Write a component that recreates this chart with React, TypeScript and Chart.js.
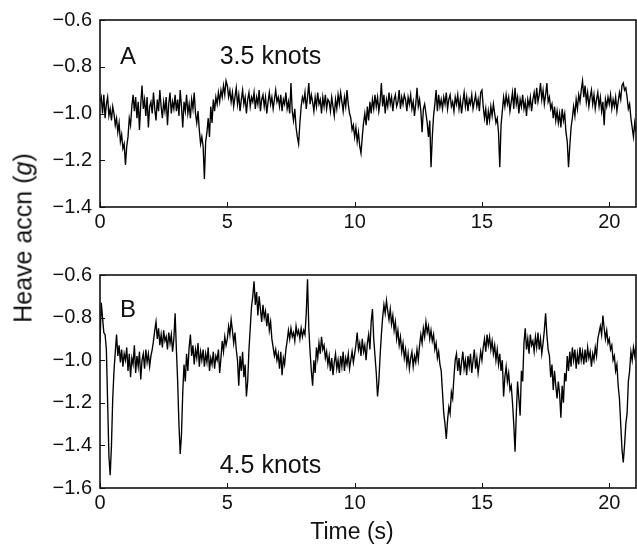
import React, { useEffect, useRef } from 'react';
import { Chart, registerables } from 'chart.js';

Chart.register(...registerables);

// Sampling interval of the heave record (s)
const SAMPLE_STEP_S = 0.05;
const TIME_MAX_S = 21.05;
const X_TICKS = [0, 5, 10, 15, 20];

// Panel A: 3.5 knots, heave acceleration (g)
const HEAVE_A = [
  -0.95, -0.93, -1.00, -0.92, -1.02, -0.96, -0.93, -1.01, -0.98, -1.03, -0.97, -1.00, -1.05, -1.02, -1.08, -1.04, -1.12, -1.09, -1.15, -1.13,
  -1.22, -1.14, -1.10, -1.02, -1.05, -0.97, -0.92, -0.99, -0.93, -1.02, -0.95, -1.07, -0.96, -0.88, -0.98, -0.94, -1.01, -0.93, -1.06, -0.97,
  -0.95, -1.00, -0.91, -0.98, -1.03, -0.94, -0.99, -0.90, -0.97, -1.02, -0.95, -0.99, -0.93, -1.05, -0.96, -0.91, -1.00, -0.95, -0.98, -0.92,
  -0.99, -0.94, -1.01, -0.90, -0.97, -1.06, -0.95, -0.99, -0.92, -1.00, -0.96, -1.02, -0.94, -0.98, -0.91, -1.00, -1.04, -0.99, -1.07, -1.13,
  -1.10, -1.14, -1.28, -1.12, -1.08, -1.02, -1.10, -0.97, -1.04, -0.94, -0.99, -0.93, -0.96, -0.91, -0.95, -0.90, -0.93, -0.88, -0.92, -0.86,
  -0.88, -0.93, -0.90, -0.95, -0.91, -0.97, -0.93, -0.89, -0.96, -0.92, -0.99, -0.94, -0.90, -0.96, -0.93, -1.00, -0.94, -0.91, -0.97, -0.93,
  -0.95, -0.91, -0.98, -0.93, -0.96, -0.90, -0.99, -0.94, -0.92, -0.97, -0.93, -1.00, -0.95, -0.91, -0.96, -0.93, -0.98, -0.94, -0.90, -0.95,
  -0.93, -0.97, -0.92, -0.99, -0.94, -0.96, -0.91, -0.98, -0.95, -1.00, -0.87, -0.99, -1.03, -0.98, -1.06, -1.10, -1.13, -1.04, -0.97, -0.93,
  -0.95, -0.91, -0.98, -0.93, -0.87, -0.96, -0.92, -0.95, -0.99, -0.93, -0.97, -0.91, -0.96, -0.94, -1.00, -0.93, -0.97, -0.92, -0.98, -0.94,
  -0.95, -0.99, -0.93, -0.97, -1.01, -0.94, -0.98, -0.92, -0.96, -0.91, -0.95, -0.99, -0.93, -0.97, -0.90, -0.96, -1.00, -1.02, -1.07, -1.05,
  -1.10, -1.06, -1.12, -1.08, -1.14, -1.17, -1.10, -1.04, -1.00, -1.05, -0.97, -1.03, -0.95, -1.00, -0.94, -0.98, -0.92, -0.97, -0.93, -0.99,
  -0.95, -0.87, -0.97, -0.92, -1.00, -0.94, -0.97, -0.91, -0.96, -0.93, -0.99, -0.94, -0.92, -0.97, -0.95, -0.90, -0.98, -0.93, -0.96, -0.92,
  -0.94, -0.99, -0.93, -0.96, -0.92, -0.98, -0.95, -1.01, -0.96, -0.89, -0.97, -0.94, -0.99, -1.08, -0.98, -0.96, -1.00, -1.04, -1.10, -1.03,
  -1.23, -1.10, -1.01, -0.96, -0.90, -0.99, -0.92, -0.97, -0.94, -0.98, -0.93, -0.96, -0.91, -0.98, -0.94, -0.92, -0.97, -0.95, -0.99, -0.93,
  -0.96, -0.92, -0.98, -0.94, -1.00, -0.95, -0.91, -0.97, -0.93, -0.99, -0.94, -0.96, -0.92, -0.98, -0.95, -0.92, -0.97, -0.94, -0.99, -0.91,
  -0.90, -0.97, -1.02, -0.98, -1.05, -0.99, -1.03, -0.97, -1.01, -0.96, -1.00, -1.04, -1.02, -1.08, -1.23, -1.05, -0.99, -0.93, -0.97, -0.92,
  -0.96, -0.93, -0.99, -0.95, -0.91, -0.98, -0.89, -0.96, -0.93, -1.00, -0.94, -0.97, -0.92, -0.98, -0.95, -1.01, -0.94, -0.97, -0.93, -0.99,
  -0.94, -0.91, -0.96, -0.89, -0.95, -0.92, -0.87, -0.94, -0.90, -0.96, -0.92, -0.87, -0.95, -0.93, -0.98, -0.96, -1.02, -0.97, -1.03, -0.99,
  -1.04, -1.00, -1.06, -0.98, -1.03, -1.00, -1.08, -1.12, -1.23, -1.14, -1.06, -1.02, -0.97, -1.01, -0.94, -0.98, -0.92, -0.95, -0.90, -0.86,
  -0.93, -0.88, -0.95, -0.91, -0.97, -0.93, -0.90, -0.96, -0.92, -0.98, -0.94, -0.91, -0.97, -0.93, -0.99, -0.95, -1.05, -0.94, -0.97, -0.93,
  -0.96, -0.92, -0.98, -0.94, -0.97, -0.93, -0.99, -0.95, -0.91, -0.94, -0.88, -0.87, -0.90, -0.89, -0.93, -0.98, -0.96, -1.02, -1.06, -1.10,
  -1.04, -1.08,
];

// Panel B: 4.5 knots, heave acceleration (g)
const HEAVE_B = [
  -0.92, -0.73, -0.80, -0.87, -0.88, -0.95, -1.20, -1.45, -1.54, -1.40, -1.18, -1.05, -0.96, -0.88, -0.98, -0.93, -1.01, -0.95, -1.03, -0.97,
  -1.00, -0.94, -1.05, -0.97, -1.08, -0.99, -1.02, -0.93, -1.06, -0.98, -1.03, -0.96, -1.09, -1.00, -0.97, -1.04, -0.95, -1.01, -0.97, -1.03,
  -0.98, -0.95, -0.91, -0.86, -0.82, -0.90, -0.85, -0.93, -0.88, -0.94, -0.86, -0.91, -0.89, -0.95, -0.87, -0.92, -0.88, -0.96, -0.90, -0.78,
  -0.95, -1.10, -1.30, -1.44, -1.35, -1.15, -1.02, -1.10, -0.97, -1.05, -0.94, -0.88, -0.98, -0.93, -1.02, -0.95, -0.99, -0.92, -1.03, -0.96,
  -1.00, -0.95, -1.03, -0.97, -1.01, -0.94, -1.05, -0.99, -1.02, -0.96, -1.04, -0.98, -1.00, -0.95, -1.06, -0.99, -0.91, -0.96, -0.89, -0.93,
  -0.90, -0.84, -0.88, -0.81, -0.86, -0.92, -0.87, -0.95, -1.00, -1.12, -0.98, -1.05, -0.96, -1.08, -1.02, -1.17, -1.10, -0.95, -0.85, -0.75,
  -0.70, -0.63, -0.74, -0.68, -0.79, -0.70, -0.76, -0.82, -0.74, -0.80, -0.77, -0.84, -0.78, -0.86, -0.82, -0.90, -0.94, -0.98, -0.95, -1.00,
  -0.97, -1.04, -0.96, -1.07, -0.99, -1.02, -0.95, -0.91, -0.86, -0.90, -0.85, -0.89, -0.87, -0.91, -0.84, -0.88, -0.86, -0.90, -0.85, -0.89,
  -0.86, -0.88, -0.78, -0.62, -0.85, -0.96, -1.05, -1.12, -1.00, -1.06, -0.94, -0.99, -0.92, -0.97, -0.89, -0.95, -0.93, -0.99, -0.96, -1.02,
  -0.98, -1.05, -0.99, -1.07, -1.01, -0.97, -1.04, -1.00, -1.06, -0.98, -1.03, -0.96, -1.05, -0.99, -1.02, -0.97, -1.04, -1.00, -0.96, -1.01,
  -0.97, -0.93, -0.87, -0.95, -0.92, -0.98, -0.90, -0.96, -0.93, -1.00, -0.92, -0.88, -0.95, -0.82, -0.76, -0.90, -0.98, -1.06, -1.17, -1.10,
  -0.98, -0.88, -0.80, -0.74, -0.78, -0.72, -0.77, -0.81, -0.76, -0.83, -0.79, -0.86, -0.82, -0.90, -0.86, -0.93, -0.89, -0.96, -0.92, -0.99,
  -0.95, -1.02, -0.97, -1.04, -0.99, -0.96, -1.03, -0.98, -1.01, -0.95, -1.00, -0.93, -0.88, -0.92, -0.85, -0.89, -0.82, -0.87, -0.84, -0.90,
  -0.86, -0.91, -0.88, -0.95, -0.92, -0.99, -0.96, -1.02, -1.05, -1.15, -1.25, -1.30, -1.37, -1.28, -1.22, -1.25, -1.15, -1.18, -1.08, -1.00,
  -0.97, -1.05, -0.99, -1.07, -1.01, -0.96, -1.04, -1.00, -1.07, -0.98, -1.03, -0.97, -1.06, -1.00, -0.95, -1.04, -0.99, -1.06, -1.01, -0.96,
  -1.00, -0.94, -0.90, -0.96, -0.88, -0.93, -0.89, -0.95, -0.91, -0.97, -0.93, -1.00, -0.95, -1.02, -0.97, -1.05, -1.00, -1.17, -1.08, -1.03,
  -1.10, -1.06, -1.14, -1.12, -1.20, -1.30, -1.43, -1.25, -1.10, -1.18, -1.26, -1.05, -1.10, -0.92, -0.85, -0.95, -0.90, -0.97, -0.88, -0.93,
  -0.91, -0.96, -0.89, -0.94, -0.87, -0.95, -0.90, -0.97, -0.92, -0.86, -0.78, -0.88, -0.95, -0.98, -1.08, -1.02, -1.14, -1.05, -1.12, -1.18,
  -1.10, -1.16, -1.27, -1.12, -1.20, -1.06, -1.10, -0.98, -1.05, -0.96, -1.03, -0.94, -1.00, -0.95, -1.04, -0.97, -1.02, -0.94, -1.00, -0.96,
  -1.02, -0.95, -1.01, -0.94, -0.99, -0.96, -1.03, -0.97, -1.00, -0.94, -0.98, -0.90, -0.87, -0.84, -0.88, -0.79, -0.85, -0.90, -0.86, -0.92,
  -0.90, -0.95, -0.93, -1.00, -0.98, -1.05, -1.02, -1.12, -1.18, -1.30, -1.42, -1.48, -1.40, -1.30, -1.25, -1.10, -1.05, -0.96, -1.00, -0.94,
  -0.98, -0.93,
];

const Y_TICKS_A = [-1.4, -1.2, -1.0, -0.8, -0.6];
const Y_TICKS_B = [-1.6, -1.4, -1.2, -1.0, -0.8, -0.6];
const PANEL_LETTERS = ['A', 'B'];
const SPEED_LABELS = ['3.5 knots', '4.5 knots'];
const X_TITLE = 'Time (s)';
const Y_TITLE_MAIN = 'Heave accn (';
const Y_TITLE_UNIT = 'g';

const FONT = '"Liberation Sans", Arial, Helvetica, sans-serif';
const INK = '#111';

const fmtTick = (v: number) => Number(v).toFixed(1).replace('-', '\u2212');

const framePlugin = {
  id: 'frame',
  afterDraw(chart: any, _args: any, opts: any) {
    const { ctx, chartArea: a, scales } = chart;
    ctx.save();
    ctx.strokeStyle = INK;
    ctx.lineWidth = 1.6;
    ctx.strokeRect(a.left, a.top, a.right - a.left, a.bottom - a.top);
    ctx.lineWidth = 1;
    ctx.beginPath();
    scales.x.ticks.forEach((t: any) => {
      const px = Math.round(scales.x.getPixelForValue(t.value)) + 0.5;
      ctx.moveTo(px, a.bottom);
      ctx.lineTo(px, a.bottom - 5);
    });
    scales.y.ticks.forEach((t: any) => {
      const py = Math.round(scales.y.getPixelForValue(t.value)) + 0.5;
      ctx.moveTo(a.left, py);
      ctx.lineTo(a.left + 5, py);
    });
    ctx.stroke();
    ctx.fillStyle = INK;
    ctx.textBaseline = 'alphabetic';
    ctx.textAlign = 'left';
    (opts.labels || []).forEach((l: any) => {
      ctx.font = `${l.size}px ${FONT}`;
      ctx.fillText(l.text, scales.x.getPixelForValue(l.x), scales.y.getPixelForValue(l.y));
    });
    ctx.restore();
  },
};

type PanelProps = {
  values: number[];
  yTicks: number[];
  letter: string;
  speed: string;
  letterAt: [number, number];
  speedAt: [number, number];
  top: number;
  height: number;
  padTop: number;
  xAxisHeight: number;
};

function Panel(p: PanelProps) {
  const ref = useRef<HTMLCanvasElement | null>(null);
  useEffect(() => {
    if (!ref.current) return;
    const data = p.values.map((v, i) => ({ x: +(i * SAMPLE_STEP_S).toFixed(2), y: v }));
    const yMin = Math.min(...p.yTicks);
    const yMax = Math.max(...p.yTicks);
    const chart = new Chart(ref.current, {
      type: 'line',
      data: {
        datasets: [
          {
            data,
            borderColor: '#000',
            borderWidth: 1.35,
            pointRadius: 0,
            tension: 0,
            fill: false,
          },
        ],
      },
      options: {
        animation: false,
        responsive: false,
        devicePixelRatio: 1,
        events: [],
        layout: { padding: { top: p.padTop, right: 1, left: 0, bottom: 0 } },
        plugins: {
          legend: { display: false },
          tooltip: { enabled: false },
          frame: {
            labels: [
              { text: p.letter, x: p.letterAt[0], y: p.letterAt[1], size: 24 },
              { text: p.speed, x: p.speedAt[0], y: p.speedAt[1], size: 25 },
            ],
          },
        } as any,
        scales: {
          x: {
            type: 'linear',
            min: 0,
            max: TIME_MAX_S,
            grid: { display: false, drawTicks: false },
            border: { display: false },
            afterFit: (s: any) => {
              s.height = p.xAxisHeight;
            },
            afterBuildTicks: (s: any) => {
              s.ticks = X_TICKS.map((v) => ({ value: v }));
            },
            ticks: {
              padding: 3,
              color: INK,
              font: { family: FONT, size: 20 },
              maxRotation: 0,
              callback: (v: any) => String(v),
            },
          },
          y: {
            type: 'linear',
            min: yMin,
            max: yMax,
            grid: { display: false, drawTicks: false },
            border: { display: false },
            afterFit: (s: any) => {
              s.width = 100;
            },
            afterBuildTicks: (s: any) => {
              s.ticks = p.yTicks.map((v) => ({ value: v }));
            },
            ticks: {
              padding: 8,
              color: INK,
              font: { family: FONT, size: 20 },
              callback: (v: any) => fmtTick(v),
            },
          },
        },
      },
      plugins: [framePlugin],
    });
    return () => chart.destroy();
  }, []);
  return (
    <canvas
      ref={ref}
      width={637}
      height={p.height}
      style={{ position: 'absolute', left: 0, top: p.top, width: 637, height: p.height }}
    />
  );
}

export default function App() {
  return (
    <div
      style={{
        position: 'absolute',
        left: 0,
        top: 0,
        width: 637,
        height: 549,
        background: '#fff',
        overflow: 'hidden',
        fontFamily: FONT,
        color: INK,
      }}
    >
      <Panel
        values={HEAVE_A}
        yTicks={Y_TICKS_A}
        letter={PANEL_LETTERS[0]}
        speed={SPEED_LABELS[0]}
        letterAt={[0.79, -0.787]}
        speedAt={[4.7, -0.787]}
        top={0}
        height={240}
        padTop={19}
        xAxisHeight={33}
      />
      <Panel
        values={HEAVE_B}
        yTicks={Y_TICKS_B}
        letter={PANEL_LETTERS[1]}
        speed={SPEED_LABELS[1]}
        letterAt={[0.79, -0.797]}
        speedAt={[4.7, -1.528]}
        top={240}
        height={309}
        padTop={35}
        xAxisHeight={61}
      />
      <div
        style={{
          position: 'absolute',
          left: 22.5,
          top: 237.5,
          transform: 'translate(-50%, -50%) rotate(-90deg)',
          whiteSpace: 'nowrap',
          fontSize: 25,
          lineHeight: '25px',
        }}
      >
        {Y_TITLE_MAIN}
        <i>{Y_TITLE_UNIT}</i>)
      </div>
      <div
        style={{
          position: 'absolute',
          left: 352,
          top: 520,
          transform: 'translateX(-50%)',
          whiteSpace: 'nowrap',
          fontSize: 23,
          lineHeight: '23px',
        }}
      >
        {X_TITLE}
      </div>
    </div>
  );
}
